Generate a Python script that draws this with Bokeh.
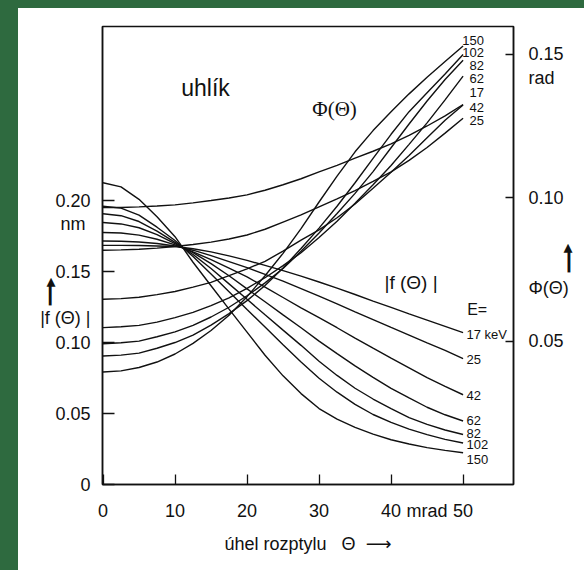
from bokeh.plotting import figure
from bokeh.models import (Range1d, LinearAxis, FixedTicker, Label, Div, PrintfTickFormatter)
from bokeh.layouts import column, row
from bokeh.embed import file_html
from bokeh.resources import INLINE

# ---------------- data ----------------
THETA = [0, 2.5, 5, 7.5, 10, 12.5, 15, 17.5, 20, 22.5, 25, 27.5, 30,
         32.5, 35, 37.5, 40, 42.5, 45, 47.5, 50]          # mrad
ENERGIES = ["17", "25", "42", "62", "82", "102", "150"]    # keV

# |f(Theta)| in nm (left axis)
f17 = [0.1684, 0.1684, 0.1683, 0.1680, 0.1676, 0.1660, 0.1638, 0.1610, 0.1578, 0.1543, 0.1506,
       0.1467, 0.1426, 0.1383, 0.1338, 0.1292, 0.1247, 0.1202, 0.1158, 0.1114, 0.1070]
f25 = [0.1715, 0.1713, 0.1708, 0.1697, 0.1680, 0.1650, 0.1612, 0.1570, 0.1527, 0.1480, 0.1432,
       0.1380, 0.1326, 0.1272, 0.1216, 0.1161, 0.1106, 0.1052, 0.0998, 0.0945, 0.0886]
f42 = [0.1775, 0.1771, 0.1756, 0.1727, 0.1688, 0.1638, 0.1584, 0.1524, 0.1462, 0.1390, 0.1317,
       0.1244, 0.1175, 0.1104, 0.1031, 0.0960, 0.0890, 0.0821, 0.0752, 0.0691, 0.0632]
f62 = [0.1845, 0.1835, 0.1808, 0.1760, 0.1697, 0.1633, 0.1556, 0.1470, 0.1378, 0.1287, 0.1195,
       0.1104, 0.1010, 0.0922, 0.0835, 0.0755, 0.0677, 0.0610, 0.0544, 0.0491, 0.0447]
f82 = [0.1907, 0.1893, 0.1852, 0.1784, 0.1705, 0.1620, 0.1521, 0.1413, 0.1304, 0.1195, 0.1087,
       0.0980, 0.0868, 0.0768, 0.0678, 0.0602, 0.0535, 0.0471, 0.0423, 0.0384, 0.0352]
f102 = [0.1960, 0.1946, 0.1897, 0.1812, 0.1718, 0.1605, 0.1482, 0.1358, 0.1233, 0.1109, 0.0985,
        0.0862, 0.0748, 0.0650, 0.0564, 0.0493, 0.0437, 0.0390, 0.0351, 0.0318, 0.0292]
f150 = [0.2125, 0.2096, 0.2008, 0.1885, 0.1745, 0.1565, 0.1400, 0.1235, 0.1073, 0.0910, 0.0765,
        0.0640, 0.0535, 0.0460, 0.0402, 0.0355, 0.0315, 0.0285, 0.0260, 0.0240, 0.0224]

# Phi(Theta) in rad (right axis)
phi17 = [0.0966, 0.0966, 0.0968, 0.0971, 0.0975, 0.0982, 0.0990, 0.0999, 0.1010, 0.1026, 0.1045,
         0.1066, 0.1090, 0.1113, 0.1138, 0.1162, 0.1188, 0.1217, 0.1250, 0.1285, 0.1325]
phi25 = [0.0817, 0.0818, 0.0820, 0.0824, 0.0830, 0.0837, 0.0845, 0.0856, 0.0870, 0.0890, 0.0915,
         0.0940, 0.0968, 0.0996, 0.1025, 0.1057, 0.1090, 0.1130, 0.1175, 0.1225, 0.1277]
phi42 = [0.0646, 0.0648, 0.0653, 0.0662, 0.0673, 0.0688, 0.0705, 0.0728, 0.0752, 0.0778, 0.0814,
         0.0852, 0.0888, 0.0930, 0.0978, 0.1033, 0.1089, 0.1147, 0.1209, 0.1270, 0.1323]
phi62 = [0.0547, 0.0550, 0.0555, 0.0566, 0.0582, 0.0600, 0.0624, 0.0651, 0.0684, 0.0721, 0.0763,
         0.0808, 0.0861, 0.0918, 0.0981, 0.1045, 0.1112, 0.1186, 0.1261, 0.1341, 0.1424]
phi82 = [0.0491, 0.0494, 0.0500, 0.0515, 0.0532, 0.0555, 0.0584, 0.0618, 0.0658, 0.0703, 0.0753,
         0.0813, 0.0877, 0.0945, 0.1015, 0.1091, 0.1174, 0.1257, 0.1337, 0.1412, 0.1479]
phi102 = [0.0448, 0.0451, 0.0458, 0.0475, 0.0495, 0.0521, 0.0556, 0.0596, 0.0641, 0.0694, 0.0755,
          0.0823, 0.0894, 0.0970, 0.1052, 0.1137, 0.1221, 0.1300, 0.1366, 0.1431, 0.1499]
phi150 = [0.0392, 0.0396, 0.0408, 0.0427, 0.0455, 0.0492, 0.0537, 0.0590, 0.0655, 0.0728, 0.0806,
          0.0892, 0.0985, 0.1075, 0.1160, 0.1234, 0.1300, 0.1362, 0.1420, 0.1475, 0.1529]

X_TICKS = [0, 10, 20, 30, 40, 50]
F_TICKS = [0, 0.05, 0.10, 0.15, 0.20]
PHI_TICKS = [0.05, 0.10, 0.15]

F_SERIES = [f17, f25, f42, f62, f82, f102, f150]
PHI_SERIES = [phi17, phi25, phi42, phi62, phi82, phi102, phi150]

# extra texts that sit beside the axes (positions in axis units)
X_UNIT_AT = 45          # "mrad" between 40 and 50
NM_AT = 0.1837          # "nm" under 0.20
FLAB_AT = 0.1175        # "|f (Θ) |" on the left
LHEAD_AT = 0.1433       # arrow head on the left
LSHAFT_AT = 0.1335      # arrow shaft on the left
RAD_AT = 0.1416         # "rad" under 0.15 rad
PHILAB_AT = 0.0686      # "Φ(Θ)" on the right
RHEAD_AT = 0.0828       # arrow head on the right
RSHAFT_AT = 0.0776      # arrow shaft on the right

# ---------------- figure ----------------
FONT = "Liberation Sans, DejaVu Sans"
SERIF = "Liberation Serif, DejaVu Serif"
INK = "#111111"
NB = "\u00a0"
HEAD = "\u25b4"     # small up triangle
SHAFT = "\u2503"    # heavy vertical

p = figure(width=566, height=562, output_backend="svg", toolbar_location=None,
           x_range=Range1d(-0.07, 57.0), y_range=Range1d(0, 0.32254),
           min_border_left=84, min_border_right=71, min_border_top=18, min_border_bottom=86)
p.background_fill_color = "white"
p.border_fill_color = "white"
p.outline_line_color = INK
p.outline_line_width = 1.5
p.xgrid.visible = False
p.ygrid.visible = False
p.extra_y_ranges = {"rad": Range1d(0, 0.15969)}


def style_axis(ax, tick_len, standoff):
    ax.axis_line_color = INK
    ax.axis_line_width = 1.5
    ax.major_tick_line_color = None      # marks are drawn as "minor" ticks
    ax.minor_tick_line_color = INK
    ax.minor_tick_line_width = 1.3
    ax.minor_tick_in = tick_len
    ax.minor_tick_out = 0
    ax.major_tick_in = 0
    ax.major_tick_out = 0
    ax.major_label_text_font = FONT
    ax.major_label_text_font_size = "18px"
    ax.major_label_text_color = INK
    ax.major_label_standoff = standoff


xax = p.xaxis[0]
style_axis(xax, 10, 16)
xax.ticker = FixedTicker(ticks=X_TICKS + [X_UNIT_AT], minor_ticks=X_TICKS)
xax.major_label_overrides = {X_UNIT_AT: "mrad"}
xax.axis_label = "úhel rozptylu" + NB * 3 + "Θ" + NB * 2 + "⟶"
xax.axis_label_text_font = FONT
xax.axis_label_text_font_size = "18px"
xax.axis_label_text_font_style = "normal"
xax.axis_label_text_color = INK
xax.axis_label_standoff = 10

yax = p.yaxis[0]
style_axis(yax, 12, 12)
yax.ticker = FixedTicker(ticks=F_TICKS + [NM_AT, FLAB_AT, LHEAD_AT, LSHAFT_AT],
                         minor_ticks=F_TICKS)
yax.formatter = PrintfTickFormatter(format="%.2f")
yax.major_label_overrides = {0: "0", NM_AT: "nm" + NB, FLAB_AT: "|f (Θ) |",
                             LHEAD_AT: HEAD + NB * 7, LSHAFT_AT: SHAFT + NB * 7}

rax = LinearAxis(y_range_name="rad",
                 ticker=FixedTicker(ticks=PHI_TICKS + [RAD_AT, PHILAB_AT, RHEAD_AT, RSHAFT_AT],
                                    minor_ticks=PHI_TICKS),
                 formatter=PrintfTickFormatter(format="%.2f"))
style_axis(rax, 8, 15)
rax.major_label_overrides = {RAD_AT: "rad", PHILAB_AT: "Φ(Θ)",
                             RHEAD_AT: NB * 7 + HEAD, RSHAFT_AT: NB * 7 + SHAFT}
p.add_layout(rax, "right")

for ys in F_SERIES:
    p.line(THETA, ys, line_color=INK, line_width=1.4)
for ys in PHI_SERIES:
    p.line(THETA, ys, line_color=INK, line_width=1.4, y_range_name="rad")


def lab(x, y, text, size="18px", font=FONT, align="center", baseline="middle"):
    p.add_layout(Label(x=x, y=y, text=text, text_font=font, text_font_size=size,
                       text_align=align, text_baseline=baseline, text_color=INK))


# texts inside the frame
lab(14.23, 0.2794, "uhlík", size="23px")
lab(32.15, 0.2642, "Φ(Θ)", size="21px", font=SERIF)
lab(42.77, 0.1421, "|f (Θ) |", size="19px")
lab(50.57, 0.1234, "E=", size="16px", align="left")

# energy labels of |f|
f_label_y = [0.1058, 0.0882, 0.0630, 0.0452, 0.0361, 0.0283, 0.0177]
for e, yy in zip(ENERGIES, f_label_y):
    lab(50.47, yy, e + (" keV" if e == "17" else ""), size="13px", align="left")

# energy labels of Phi (top to bottom order in the picture)
phi_label_order = ["150", "102", "82", "62", "17", "42", "25"]
phi_label_y = [0.3128, 0.3041, 0.2954, 0.2858, 0.2759, 0.2658, 0.2565]
for e, yy in zip(phi_label_order, phi_label_y):
    lab(52.9, yy, e, size="13px", align="right")

GREEN = "#2e6a3f"
top_strip = Div(text="", width=584, height=8, margin=(0, 0, 0, 0),
                styles={"background-color": GREEN})
left_strip = Div(text="", width=18, height=562, margin=(0, 0, 0, 0),
                 styles={"background-color": GREEN})
layout = column(top_strip, row(left_strip, p, spacing=0), spacing=0)

open("out.html", "w").write(file_html(layout, INLINE))
